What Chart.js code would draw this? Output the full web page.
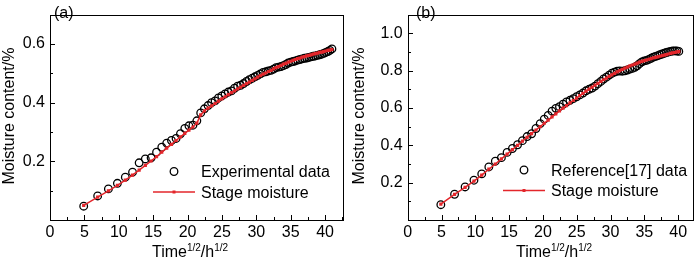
<!DOCTYPE html>
<html>
<head>
<meta charset="utf-8">
<title>Moisture content vs time</title>
<script src="https://cdn.jsdelivr.net/npm/chart.js@4.4.0/dist/chart.umd.min.js"></script>
<style>
  html, body { margin: 0; padding: 0; background: #fff; }
  #wrap { position: relative; width: 700px; height: 259px; overflow: hidden; }
  .panel { position: absolute; top: 0; width: 350px; height: 259px; }
</style>
</head>
<body>
<div id="wrap">
  <div class="panel" style="left:0"><canvas id="chartA" width="350" height="259"></canvas></div>
  <div class="panel" style="left:350px"><canvas id="chartB" width="350" height="259"></canvas></div>
</div>
<script>
// --- DATA ---
const timeA = [4.90, 6.93, 8.49, 9.80, 10.95, 12.00, 12.96, 13.86, 14.70, 15.49,
  16.25, 16.97, 17.66, 18.33, 18.97, 19.60, 20.20, 20.78, 21.35, 21.91,
  22.45, 22.98, 23.49, 24.00, 24.49, 24.98, 25.46, 25.92, 26.38, 26.83,
  27.28, 27.71, 28.14, 28.57, 28.98, 29.39, 29.80, 30.20, 30.59, 30.98,
  31.37, 31.75, 32.12, 32.50, 32.86, 33.23, 33.59, 33.94, 34.29, 34.64,
  34.99, 35.33, 35.67, 36.00, 36.33, 36.66, 36.99, 37.31, 37.63, 37.95,
  38.26, 38.57, 38.88, 39.19, 39.50, 39.80, 40.10, 40.40, 40.69, 40.99];
const moistureA = [0.047, 0.082, 0.106, 0.125, 0.146, 0.163, 0.195, 0.208, 0.212, 0.231,
  0.248, 0.262, 0.271, 0.278, 0.294, 0.312, 0.321, 0.323, 0.338, 0.365,
  0.379, 0.390, 0.400, 0.406, 0.416, 0.423, 0.430, 0.436, 0.440, 0.449,
  0.456, 0.459, 0.465, 0.472, 0.478, 0.483, 0.488, 0.493, 0.498, 0.503,
  0.505, 0.508, 0.510, 0.514, 0.519, 0.521, 0.523, 0.526, 0.530, 0.535,
  0.538, 0.540, 0.542, 0.545, 0.547, 0.549, 0.551, 0.552, 0.554, 0.556,
  0.558, 0.559, 0.561, 0.563, 0.565, 0.568, 0.571, 0.574, 0.578, 0.583];
const stageA = [0.050, 0.078, 0.099, 0.118, 0.136, 0.153, 0.170, 0.186, 0.201, 0.216,
  0.231, 0.245, 0.258, 0.271, 0.283, 0.295, 0.306, 0.317, 0.330, 0.358,
  0.372, 0.381, 0.389, 0.397, 0.405, 0.413, 0.420, 0.427, 0.434, 0.440,
  0.447, 0.453, 0.459, 0.465, 0.470, 0.476, 0.481, 0.487, 0.492, 0.497,
  0.501, 0.506, 0.510, 0.515, 0.519, 0.523, 0.527, 0.531, 0.534, 0.538,
  0.541, 0.544, 0.547, 0.550, 0.552, 0.555, 0.557, 0.559, 0.561, 0.563,
  0.565, 0.567, 0.569, 0.571, 0.572, 0.574, 0.576, 0.578, 0.579, 0.581];

const timeB = [4.90, 6.93, 8.49, 9.80, 10.95, 12.00, 12.96, 13.86, 14.70, 15.49,
  16.25, 16.97, 17.66, 18.33, 18.97, 19.60, 20.20, 20.78, 21.35, 21.91,
  22.45, 22.98, 23.49, 24.00, 24.49, 24.98, 25.46, 25.92, 26.38, 26.83,
  27.28, 27.71, 28.14, 28.57, 28.98, 29.39, 29.80, 30.20, 30.59, 30.98,
  31.37, 31.75, 32.12, 32.50, 32.86, 33.23, 33.59, 33.94, 34.29, 34.64,
  34.99, 35.33, 35.67, 36.00, 36.33, 36.66, 36.99, 37.31, 37.63, 37.95,
  38.26, 38.57, 38.88, 39.19, 39.50, 39.80, 40.10];
const moistureB = [0.082, 0.138, 0.177, 0.213, 0.247, 0.284, 0.315, 0.334, 0.362, 0.383,
  0.403, 0.425, 0.447, 0.462, 0.490, 0.516, 0.540, 0.560, 0.583, 0.598,
  0.607, 0.620, 0.632, 0.641, 0.650, 0.660, 0.670, 0.680, 0.692, 0.700,
  0.707, 0.717, 0.730, 0.742, 0.755, 0.765, 0.776, 0.786, 0.792, 0.797,
  0.798, 0.797, 0.799, 0.803, 0.808, 0.812, 0.818, 0.826, 0.837, 0.847,
  0.852, 0.855, 0.860, 0.866, 0.872, 0.876, 0.880, 0.885, 0.889, 0.893,
  0.897, 0.900, 0.903, 0.905, 0.906, 0.905, 0.903];
const stageB = [0.085, 0.137, 0.175, 0.208, 0.240, 0.272, 0.300, 0.327, 0.353, 0.377,
  0.400, 0.422, 0.443, 0.463, 0.482, 0.500, 0.518, 0.535, 0.552, 0.568,
  0.584, 0.599, 0.613, 0.627, 0.640, 0.653, 0.666, 0.678, 0.690, 0.701,
  0.712, 0.722, 0.732, 0.742, 0.751, 0.760, 0.769, 0.777, 0.785, 0.793,
  0.800, 0.807, 0.813, 0.819, 0.825, 0.830, 0.835, 0.840, 0.845, 0.849,
  0.853, 0.857, 0.861, 0.864, 0.868, 0.871, 0.874, 0.877, 0.880, 0.883,
  0.886, 0.889, 0.892, 0.895, 0.897, 0.900, 0.902];

const xTickLabels = [0, 5, 10, 15, 20, 25, 30, 35, 40];
const yTickLabelsA = [0.2, 0.4, 0.6];
const yTickLabelsB = [0.2, 0.4, 0.6, 0.8, 1.0];

// --- STYLE ---
const RED = '#e3262b';
const FONT = "'Liberation Sans', Arial, sans-serif";
Chart.defaults.font.family = FONT;
Chart.defaults.font.size = 16;
Chart.defaults.color = '#000';

function isLabel(v, list) {
  return list.some(l => Math.abs(l - v) < 1e-6);
}

// frame, inward ticks, axis titles, panel tag and legend drawn on top of the chart
const decor = {
  id: 'decor',
  afterDraw(chart, args, opts) {
    const { ctx, chartArea: a, scales } = chart;
    const left = Math.round(a.left), right = Math.round(a.right);
    const top = Math.round(a.top), bottom = Math.round(a.bottom);
    ctx.save();
    ctx.strokeStyle = '#000';
    ctx.lineWidth = 1;
    ctx.strokeRect(left + 0.5, top + 0.5, right - left, bottom - top);

    // ticks pointing into the plot
    ctx.beginPath();
    scales.x.ticks.forEach(t => {
      const px = Math.round(scales.x.getPixelForValue(t.value)) + 0.5;
      const len = isLabel(t.value, xTickLabels) ? 5 : 3;
      ctx.moveTo(px, bottom);
      ctx.lineTo(px, bottom - len);
    });
    scales.y.ticks.forEach(t => {
      const py = Math.round(scales.y.getPixelForValue(t.value)) + 0.5;
      const len = isLabel(t.value, opts.yLabels) ? 5 : 3;
      ctx.moveTo(left, py);
      ctx.lineTo(left + len, py);
    });
    ctx.stroke();

    ctx.fillStyle = '#000';
    ctx.font = '16px ' + FONT;
    ctx.textBaseline = 'alphabetic';

    // panel tag
    ctx.textAlign = 'left';
    ctx.fillText(opts.tag, opts.tagX, 18);

    // y title
    ctx.save();
    ctx.translate(13.5, 116);
    ctx.rotate(-Math.PI / 2);
    ctx.textAlign = 'center';
    ctx.fillText('Moisture content/%', 0, 0);
    ctx.restore();

    // x title with superscripts
    const parts = [['Time', 16, 0], ['1/2', 10, -6], ['/h', 16, 0], ['1/2', 10, -6]];
    let total = 0;
    parts.forEach(p => { ctx.font = p[1] + 'px ' + FONT; total += ctx.measureText(p[0]).width; });
    let x = opts.xTitleX - total / 2;
    parts.forEach(p => {
      ctx.font = p[1] + 'px ' + FONT;
      ctx.fillText(p[0], x, 257 + p[2]);
      x += ctx.measureText(p[0]).width;
    });

    // legend
    const ly = opts.legendY;
    const ds = chart.data.datasets;
    ctx.font = '16px ' + FONT;
    ctx.beginPath();
    ctx.arc(174, ly, 3.8, 0, Math.PI * 2);
    ctx.lineWidth = 1.3;
    ctx.strokeStyle = '#000';
    ctx.stroke();
    ctx.fillText(ds[1].label, 201, ly + 5.5);
    ctx.beginPath();
    ctx.moveTo(153, ly + 20.5);
    ctx.lineTo(195, ly + 20.5);
    ctx.lineWidth = 1.5;
    ctx.strokeStyle = RED;
    ctx.stroke();
    ctx.fillStyle = RED;
    ctx.fillRect(172.5, ly + 19, 3, 3);
    ctx.fillStyle = '#000';
    ctx.fillText(ds[0].label, 201, ly + 26);
    ctx.restore();
  }
};

function makePanel(id, p) {
  const toPoints = (xs, ys) => xs.map((x, i) => ({ x: x, y: ys[i] }));
  return new Chart(document.getElementById(id), {
    type: 'scatter',
    data: {
      datasets: [
        {
          label: 'Stage moisture',
          data: toPoints(p.time, p.stage),
          showLine: true,
          borderColor: RED,
          backgroundColor: RED,
          borderWidth: 1.5,
          pointRadius: 1.2,
          pointStyle: 'rect',
          order: 0
        },
        {
          label: p.dataLabel,
          data: toPoints(p.time, p.moisture),
          borderColor: '#000',
          backgroundColor: 'rgba(0,0,0,0)',
          borderWidth: 1.3,
          pointRadius: 3.8,
          order: 1
        }
      ]
    },
    options: {
      responsive: false,
      animation: false,
      devicePixelRatio: 1,
      events: [],
      layout: { padding: { top: 1, right: 7, left: 0, bottom: 0 } },
      scales: {
        x: {
          type: 'linear',
          min: 0,
          max: p.xMax,
          grid: { display: false, drawTicks: false },
          border: { display: false },
          afterFit: s => { s.height = 39; },
          ticks: {
            stepSize: 2.5,
            includeBounds: false,
            autoSkip: false,
            maxRotation: 0,
            padding: 3,
            callback: v => isLabel(v, xTickLabels) ? String(Math.round(v)) : ''
          }
        },
        y: {
          type: 'linear',
          min: 0,
          max: p.yMax,
          grid: { display: false, drawTicks: false },
          border: { display: false },
          afterFit: s => { s.width = p.yAxisWidth; },
          ticks: {
            stepSize: 0.1,
            includeBounds: false,
            autoSkip: false,
            padding: 5,
            callback: v => isLabel(v, p.yLabels) ? v.toFixed(1) : ''
          }
        }
      },
      plugins: {
        legend: { display: false },
        tooltip: { enabled: false },
        decor: {
          tag: p.tag,
          tagX: p.tagX,
          yLabels: p.yLabels,
          xTitleX: p.xTitleX,
          legendY: p.legendY
        }
      }
    },
    plugins: [decor]
  });
}

makePanel('chartA', {
  tag: '(a)', tagX: 54, dataLabel: 'Experimental data',
  time: timeA, moisture: moistureA, stage: stageA,
  xMax: 42.6, yMax: 0.7, yAxisWidth: 50, yLabels: yTickLabelsA,
  xTitleX: 190, legendY: 171.5
});

makePanel('chartB', {
  tag: '(b)', tagX: 66, dataLabel: 'Reference[17] data',
  time: timeB, moisture: moistureB, stage: stageB,
  xMax: 42.2, yMax: 1.1, yAxisWidth: 57.7, yLabels: yTickLabelsB,
  xTitleX: 204, legendY: 170
});
</script>
</body>
</html>
